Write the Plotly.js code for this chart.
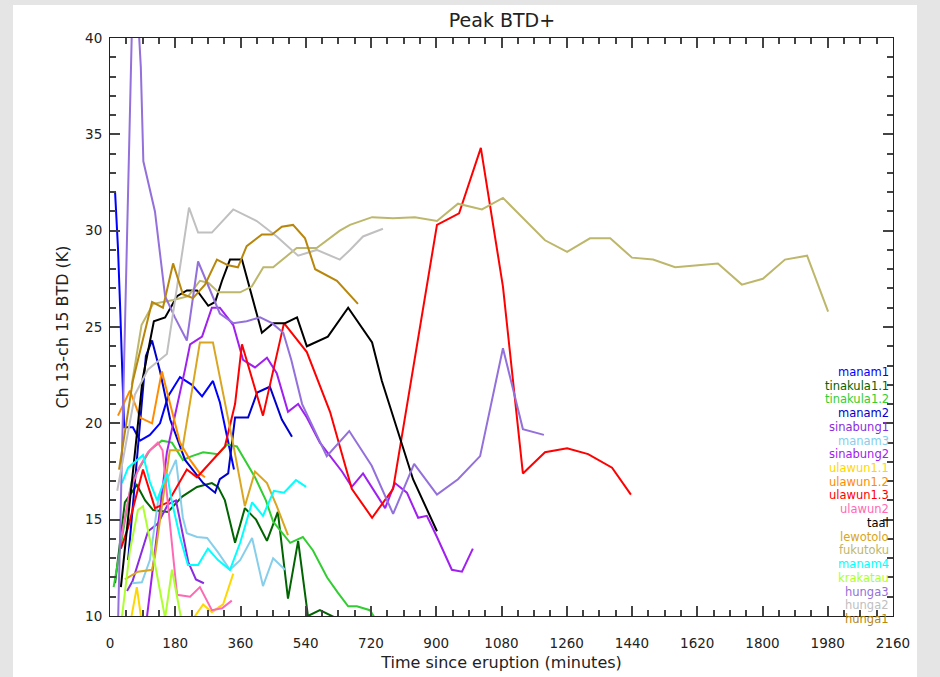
<!DOCTYPE html>
<html>
<head>
<meta charset="utf-8">
<script src="https://cdn.plot.ly/plotly-3.0.1.min.js"></script>
<style>html,body{margin:0;padding:0;background:#e5e5e5;width:940px;height:677px;overflow:hidden;}#chart{position:absolute;left:13px;top:5px;width:904px;height:672px;}</style>
</head>
<body>
<div id="chart"></div>
<script>
// ---- data (time since eruption in minutes, peak BTD in K) ----
const seriesNames = ["manam1","tinakula1.1","tinakula1.2","manam2","sinabung1","manam3","sinabung2","ulawun1.1","ulawun1.2","ulawun1.3","ulawun2","taal","lewotolo","fukutoku","manam4","krakatau","hunga3","hunga2","hunga1"];
const seriesColors = ["#0000ff","#006400","#32cd32","#0000cd","#8a2be2","#87ceeb","#a020f0","#ffd700","#ff8c00","#ff0000","#ff69b4","#000000","#daa520","#bdb76b","#00ffff","#adff2f","#9370db","#c0c0c0","#b8860b"];

const manam1_t = [14, 19, 22, 28, 36, 39, 63, 83, 110, 138, 160, 193, 226, 254, 284, 303, 323, 342];
const manam1_v = [32.0, 30.5, 29.1, 26.0, 22.2, 19.8, 19.8, 19.1, 19.4, 20.0, 21.4, 22.4, 22.0, 21.4, 22.2, 21.1, 19.3, 17.6];
const tinakula11_t = [14, 41, 74, 97, 119, 160, 199, 240, 281, 298, 317, 345, 372, 403, 433, 463, 491, 519, 546, 579, 634];
const tinakula11_v = [11.7, 15.9, 16.8, 16.0, 15.5, 15.4, 16.2, 16.7, 16.9, 16.7, 16.0, 13.8, 15.6, 15.0, 13.9, 15.4, 10.9, 13.9, 10.0, 10.3, 9.8];
const tinakula12_t = [10, 60, 110, 143, 171, 201, 226, 257, 298, 323, 350, 378, 400, 430, 450, 497, 532, 560, 599, 629, 657, 681, 717, 737];
const tinakula12_v = [11.5, 17.0, 18.6, 19.1, 19.0, 18.1, 18.3, 18.5, 18.4, 18.9, 18.8, 17.9, 17.2, 16.0, 14.9, 13.8, 14.1, 13.4, 12.0, 11.2, 10.5, 10.5, 10.3, 9.7];
const manam2_t = [50, 99, 116, 138, 166, 207, 257, 290, 303, 326, 345, 381, 406, 441, 474, 502];
const manam2_v = [12.9, 23.5, 24.3, 22.7, 20.2, 18.1, 16.9, 16.4, 17.1, 17.4, 20.3, 20.3, 21.6, 21.9, 20.2, 19.3];
const sinabung1_t = [47, 62, 105, 132, 160, 182, 216, 237, 259];
const sinabung1_v = [11.3, 11.8, 14.4, 14.8, 15.8, 16.0, 12.8, 11.9, 11.7];
const manam3_t = [61, 88, 110, 132, 160, 182, 201, 212, 240, 268, 298, 331, 359, 392, 422, 450, 483];
const manam3_v = [11.7, 11.75, 12.9, 15.9, 17.2, 18.1, 15.1, 14.3, 14.1, 14.05, 13.3, 12.4, 12.9, 14.05, 11.55, 13.0, 12.4];
const sinabung2_t = [101, 157, 207, 221, 254, 281, 303, 340, 367, 400, 433, 460, 491, 519, 543, 579, 640, 667, 698, 759, 786, 819, 850, 874, 902, 943, 971, 1001];
const sinabung2_v = [9.8, 18.5, 22.8, 24.1, 24.5, 26.0, 26.0, 25.1, 23.3, 22.9, 23.4, 22.6, 20.6, 21.0, 20.3, 19.0, 17.5, 16.7, 17.4, 15.6, 16.9, 16.4, 15.1, 15.2, 14.1, 12.4, 12.3, 13.5];
const ulawun11_t = [45, 74, 100, 160, 257, 281, 312, 340];
const ulawun11_v = [8.5, 11.5, 8.0, 8.0, 10.6, 10.2, 10.6, 12.2];
const ulawun12_t = [22, 55, 83, 116, 143, 171, 193, 221, 248, 262];
const ulawun12_v = [20.4, 21.7, 20.3, 20.0, 22.7, 20.7, 19.0, 18.1, 17.4, 17.2];
const ulawun13_t = [30, 50, 91, 124, 160, 212, 240, 298, 317, 345, 364, 422, 480, 543, 607, 667, 723, 781, 902, 963, 1023, 1084, 1139, 1200, 1261, 1319, 1385, 1437];
const ulawun13_v = [13.5, 14.6, 17.6, 15.6, 15.9, 17.6, 17.2, 18.4, 18.8, 21.0, 24.1, 20.4, 25.2, 23.7, 20.6, 16.6, 15.1, 16.6, 30.3, 30.9, 34.3, 27.1, 17.4, 18.5, 18.7, 18.4, 17.7, 16.3];
const ulawun2_t = [30, 55, 80, 105, 132, 145, 185, 221, 248, 281, 309, 336];
const ulawun2_v = [14.0, 16.5, 17.7, 18.5, 19.0, 18.6, 11.1, 11.0, 11.5, 10.3, 10.4, 10.8];
const taal_t = [30, 90, 121, 152, 185, 212, 240, 271, 290, 309, 331, 364, 419, 450, 483, 516, 543, 601, 657, 723, 750, 836, 902];
const taal_v = [11.5, 22.3, 25.3, 25.5, 26.6, 26.9, 26.9, 26.1, 26.3, 27.4, 28.5, 28.5, 24.7, 25.2, 25.2, 25.5, 24.0, 24.5, 26.0, 24.2, 22.2, 17.1, 14.4];
const lewotolo_t = [41, 77, 116, 124, 165, 199, 248, 284, 339, 372, 400, 433, 460, 491];
const lewotolo_v = [11.9, 12.3, 12.4, 13.1, 18.6, 18.6, 24.2, 24.2, 19.0, 15.7, 17.5, 16.9, 15.7, 14.2];
const fukutoku_t = [60, 87, 119, 175, 216, 248, 271, 299, 359, 391, 423, 450, 515, 570, 634, 662, 723, 781, 841, 902, 960, 1026, 1084, 1139, 1200, 1261, 1324, 1380, 1440, 1498, 1559, 1622, 1677, 1743, 1801, 1862, 1923, 1981];
const fukutoku_v = [22.0, 25.1, 26.2, 26.4, 26.6, 27.4, 27.3, 26.8, 26.8, 27.1, 28.1, 28.1, 29.1, 29.1, 30.0, 30.3, 30.7, 30.65, 30.7, 30.5, 31.4, 31.1, 31.7, 30.65, 29.5, 28.9, 29.6, 29.6, 28.6, 28.5, 28.1, 28.2, 28.3, 27.2, 27.5, 28.5, 28.7, 25.8];
const manam4_t = [33, 50, 91, 110, 130, 157, 171, 193, 215, 243, 270, 298, 331, 359, 392, 422, 452, 480, 513, 541];
const manam4_v = [16.9, 17.7, 18.35, 16.95, 16.0, 17.4, 15.9, 14.1, 12.65, 12.65, 13.5, 12.9, 12.4, 13.8, 15.9, 15.2, 16.5, 16.4, 17.05, 16.7];
const krakatau_t = [30, 55, 77, 91, 124, 152, 171, 199, 210];
const krakatau_v = [9.5, 13.4, 15.5, 15.7, 12.7, 9.9, 12.4, 9.8, 8.5];
const hunga3_t = [22, 66, 85, 92, 124, 152, 179, 212, 243, 271, 303, 340, 377, 414, 447, 478, 500, 530, 598, 660, 722, 781, 839, 902, 960, 1021, 1084, 1139, 1197];
const hunga3_v = [9.5, 45, 38.5, 33.6, 31.0, 26.6, 25.5, 24.3, 28.4, 27.1, 25.7, 25.2, 25.3, 25.5, 25.2, 24.7, 23.3, 21.0, 18.3, 19.6, 17.8, 15.3, 17.9, 16.3, 17.1, 18.3, 23.9, 19.7, 19.4];
const hunga2_t = [20, 69, 105, 157, 218, 243, 281, 340, 405, 460, 519, 570, 634, 662, 698, 753];
const hunga2_v = [16.5, 21.5, 22.8, 23.6, 31.2, 29.9, 29.9, 31.1, 30.5, 29.7, 28.7, 29.0, 28.5, 29.0, 29.7, 30.1];
const hunga1_t = [25, 63, 116, 146, 174, 201, 229, 262, 295, 326, 353, 377, 419, 447, 474, 505, 538, 566, 626, 684];
const hunga1_v = [17.6, 22.2, 26.3, 26.0, 28.3, 26.7, 26.5, 27.2, 28.5, 28.2, 28.1, 29.2, 29.8, 29.8, 30.2, 30.3, 29.6, 28.0, 27.4, 26.2];

const xTickStep = 180, xMinorStep = 45;
const yTickStep = 5, yMinorStep = 1;

// ---- build ----
const seriesData = [
  [manam1_t, manam1_v], [tinakula11_t, tinakula11_v], [tinakula12_t, tinakula12_v],
  [manam2_t, manam2_v], [sinabung1_t, sinabung1_v], [manam3_t, manam3_v],
  [sinabung2_t, sinabung2_v], [ulawun11_t, ulawun11_v], [ulawun12_t, ulawun12_v],
  [ulawun13_t, ulawun13_v], [ulawun2_t, ulawun2_v], [taal_t, taal_v],
  [lewotolo_t, lewotolo_v], [fukutoku_t, fukutoku_v], [manam4_t, manam4_v],
  [krakatau_t, krakatau_v], [hunga3_t, hunga3_v], [hunga2_t, hunga2_v], [hunga1_t, hunga1_v]
];
const traces = seriesData.map((d, i) => ({
  type: 'scatter', mode: 'lines', x: d[0], y: d[1], name: seriesNames[i],
  line: {color: seriesColors[i], width: 2}, hoverinfo: 'skip'
}));

const fontFam = 'DejaVu Sans, sans-serif';
// chart div sits at (13,5) in the window; plot area spans x 110..893, y 38..616 (window px)
const OX = 13, OY = 5, W = 904, H = 672;
const L = 110 - OX, R = OX + W - 893, T = 38 - OY, B = OY + H - 616;
const pw = W - L - R, ph = H - T - B;
const px2x = p => (p - 110) / pw;
const py2y = p => (616 - p) / ph;

const annotations = seriesNames.map((n, i) => ({
  xref: 'paper', yref: 'paper', x: px2x(891), y: py2y(372 + i * 13.72),
  xanchor: 'right', yanchor: 'middle', text: n, showarrow: false,
  font: {family: fontFam, size: 11.5, color: seriesColors[i]}
}));

const axisCommon = {
  showgrid: false, zeroline: false, showline: true, linecolor: '#222', linewidth: 1,
  mirror: 'allticks', ticks: 'inside', ticklen: 10, tickwidth: 1.8, tickcolor: '#444',
  tickfont: {family: fontFam, size: 13.5, color: '#222'}
};

const layout = {
  width: W, height: H,
  margin: {l: L, r: R, t: T, b: B, pad: 0},
  paper_bgcolor: '#ffffff', plot_bgcolor: '#ffffff',
  showlegend: false,
  title: {text: 'Peak BTD+', font: {family: fontFam, size: 19, color: '#222'}, x: (502 - OX) / W, xanchor: 'center', y: 1 - (20 - OY) / H, yanchor: 'middle'},
  xaxis: Object.assign({}, axisCommon, {
    range: [0, 2160], tickmode: 'linear', tick0: 0, dtick: xTickStep, ticklabelstandoff: 15,
    minor: {tickmode: 'linear', tick0: 0, dtick: xMinorStep, ticks: 'inside', ticklen: 6, tickcolor: '#444', tickwidth: 1.8},
    title: {text: 'Time since eruption (minutes)', font: {family: fontFam, size: 16, color: '#222'}, standoff: 6}
  }),
  yaxis: Object.assign({}, axisCommon, {
    range: [10, 40], tickmode: 'linear', tick0: 10, dtick: yTickStep, ticklabelstandoff: 4,
    minor: {tickmode: 'linear', tick0: 10, dtick: yMinorStep, ticks: 'inside', ticklen: 6, tickcolor: '#444', tickwidth: 1.8},
    title: {text: 'Ch 13-ch 15 BTD (K)', font: {family: fontFam, size: 16, color: '#222'}, standoff: 12}
  }),
  annotations: annotations
};

Plotly.newPlot('chart', traces, layout, {displayModeBar: false});
</script>
</body>
</html>
